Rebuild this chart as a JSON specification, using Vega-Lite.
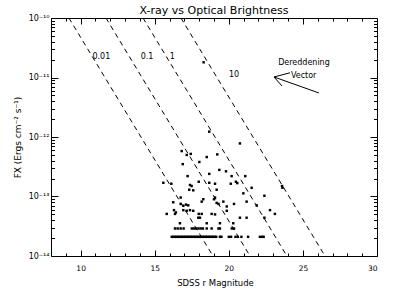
{
  "$schema": "https://vega.github.io/schema/vega-lite/v6.json",
  "width": 326,
  "height": 238,
  "autosize": {"type": "none"},
  "padding": {"left": 51, "top": 18, "right": 17, "bottom": 35},
  "background": "white",
  "title": {"text": "X-ray vs Optical Brightness", "anchor": "middle", "baseline": "alphabetic", "offset": 0, "dy": 11, "fontSize": 11, "font": "DejaVu Sans", "fontWeight": "normal", "color": "black"},
  "config": {
    "view": {"stroke": null},
    "axis": {"labelFont": "DejaVu Sans", "titleFont": "DejaVu Sans", "labelColor": "black", "titleColor": "black", "tickColor": "black", "domainColor": "black", "grid": false, "titleFontWeight": "normal", "domainWidth": 1, "tickWidth": 1},
    "text": {"font": "DejaVu Sans", "color": "black"}
  },
  "datasets": {
    "lines": [
      {"ratio": "0.01", "r": 9.21, "fx": 1e-10}, {"ratio": "0.01", "r": 18.93, "fx": 1e-14},
      {"ratio": "0.1", "r": 11.71, "fx": 1e-10}, {"ratio": "0.1", "r": 21.43, "fx": 1e-14},
      {"ratio": "1", "r": 14.21, "fx": 1e-10}, {"ratio": "1", "r": 23.92, "fx": 1e-14},
      {"ratio": "10", "r": 16.77, "fx": 1e-10}, {"ratio": "10", "r": 26.49, "fx": 1e-14}
    ],
    "labels": [
      {"text": "0.01", "r": 11.4, "fx": 2.21e-11},
      {"text": "0.1", "r": 14.48, "fx": 2.21e-11},
      {"text": "1", "r": 16.18, "fx": 2.21e-11},
      {"text": "10", "r": 20.35, "fx": 1.12e-11},
      {"text": "Dereddening", "r": 25.07, "fx": 1.72e-11},
      {"text": "Vector", "r": 25.05, "fx": 1.08e-11}
    ],
    "arrow": [
      {"r": 26.08, "fx": 5.5e-12, "r2": 23.05, "fx2": 1.02e-11},
      {"r": 23.05, "fx": 1.02e-11, "r2": 24.13, "fx2": 1.2e-11},
      {"r": 23.05, "fx": 1.02e-11, "r2": 23.59, "fx2": 7.2e-12}
    ],
    "pts": [
      {"r": 18.3, "fx": 1.8e-11}, {"r": 18.68, "fx": 1.23e-12}, {"r": 20.75, "fx": 7.8e-13},
      {"r": 16.82, "fx": 5.8e-13}, {"r": 17.16, "fx": 5.0e-13}, {"r": 17.43, "fx": 5.2e-13},
      {"r": 18.51, "fx": 4.6e-13}, {"r": 19.22, "fx": 5.1e-13}, {"r": 16.89, "fx": 3.5e-13},
      {"r": 18.01, "fx": 3.8e-13}, {"r": 19.36, "fx": 2.8e-13}, {"r": 19.81, "fx": 2.65e-13},
      {"r": 18.68, "fx": 2.4e-13}, {"r": 17.22, "fx": 2.2e-13}, {"r": 20.19, "fx": 2.2e-13},
      {"r": 21.11, "fx": 2.2e-13}, {"r": 15.58, "fx": 1.7e-13}, {"r": 16.12, "fx": 1.64e-13},
      {"r": 17.97, "fx": 1.77e-13}, {"r": 18.68, "fx": 1.7e-13}, {"r": 19.07, "fx": 1.64e-13},
      {"r": 20.13, "fx": 1.64e-13}, {"r": 20.48, "fx": 1.77e-13}, {"r": 20.57, "fx": 1.68e-13},
      {"r": 17.38, "fx": 1.56e-13}, {"r": 17.49, "fx": 1.5e-13}, {"r": 21.54, "fx": 1.4e-13},
      {"r": 17.33, "fx": 1.3e-13}, {"r": 17.6, "fx": 1.27e-13}, {"r": 19.18, "fx": 1.3e-13},
      {"r": 23.59, "fx": 1.5e-13}, {"r": 23.62, "fx": 1.4e-13}, {"r": 20.98, "fx": 1.13e-13},
      {"r": 22.4, "fx": 1.03e-13}, {"r": 16.75, "fx": 9.6e-14}, {"r": 18.28, "fx": 9.0e-14},
      {"r": 18.17, "fx": 8.2e-14}, {"r": 19.07, "fx": 9.6e-14}, {"r": 19.0, "fx": 9.0e-14},
      {"r": 19.18, "fx": 7.8e-14}, {"r": 19.3, "fx": 7.5e-14}, {"r": 19.63, "fx": 8.2e-14},
      {"r": 21.2, "fx": 8.2e-14}, {"r": 16.25, "fx": 8.0e-14}, {"r": 16.75, "fx": 7.5e-14},
      {"r": 16.93, "fx": 7.0e-14}, {"r": 17.11, "fx": 7.3e-14}, {"r": 17.26, "fx": 7.1e-14},
      {"r": 19.86, "fx": 6.8e-14}, {"r": 20.35, "fx": 7.5e-14}, {"r": 21.88, "fx": 7.1e-14},
      {"r": 16.3, "fx": 5.9e-14}, {"r": 16.43, "fx": 5.4e-14}, {"r": 16.93, "fx": 5.9e-14},
      {"r": 17.16, "fx": 5.75e-14}, {"r": 17.38, "fx": 5.9e-14}, {"r": 17.6, "fx": 5.75e-14},
      {"r": 15.81, "fx": 5.1e-14}, {"r": 16.37, "fx": 5.1e-14}, {"r": 17.97, "fx": 5.1e-14},
      {"r": 18.17, "fx": 5.1e-14}, {"r": 18.84, "fx": 5.1e-14}, {"r": 19.07, "fx": 5.0e-14},
      {"r": 22.78, "fx": 5.9e-14}, {"r": 23.11, "fx": 5.1e-14}, {"r": 19.86, "fx": 5.75e-14},
      {"r": 17.94, "fx": 4.4e-14}, {"r": 18.05, "fx": 4.4e-14}, {"r": 20.75, "fx": 4.4e-14},
      {"r": 21.2, "fx": 4.4e-14}, {"r": 22.4, "fx": 4.4e-14},
      {"r": 16.7, "fx": 3.55e-14}, {"r": 18.51, "fx": 3.55e-14}, {"r": 19.4, "fx": 3.55e-14}, {"r": 20.3, "fx": 3.55e-14},
      {"r": 16.37, "fx": 2.9e-14}, {"r": 16.55, "fx": 2.9e-14}, {"r": 16.75, "fx": 2.9e-14}, {"r": 16.95, "fx": 2.9e-14},
      {"r": 17.5, "fx": 2.9e-14}, {"r": 17.65, "fx": 2.9e-14}, {"r": 17.8, "fx": 2.9e-14}, {"r": 17.95, "fx": 2.9e-14},
      {"r": 18.1, "fx": 2.9e-14}, {"r": 18.25, "fx": 2.9e-14}, {"r": 18.51, "fx": 2.9e-14}, {"r": 18.84, "fx": 2.9e-14},
      {"r": 19.3, "fx": 2.9e-14}, {"r": 19.4, "fx": 2.9e-14}, {"r": 20.2, "fx": 2.9e-14}, {"r": 20.35, "fx": 2.9e-14},
      {"r": 16.15, "fx": 2.1e-14}, {"r": 16.25, "fx": 2.1e-14}, {"r": 16.35, "fx": 2.1e-14}, {"r": 16.45, "fx": 2.1e-14},
      {"r": 16.55, "fx": 2.1e-14}, {"r": 16.65, "fx": 2.1e-14}, {"r": 16.75, "fx": 2.1e-14}, {"r": 16.85, "fx": 2.1e-14},
      {"r": 16.95, "fx": 2.1e-14}, {"r": 17.05, "fx": 2.1e-14}, {"r": 17.15, "fx": 2.1e-14}, {"r": 17.25, "fx": 2.1e-14},
      {"r": 17.35, "fx": 2.1e-14}, {"r": 17.45, "fx": 2.1e-14}, {"r": 17.55, "fx": 2.1e-14}, {"r": 17.65, "fx": 2.1e-14},
      {"r": 17.75, "fx": 2.1e-14}, {"r": 17.85, "fx": 2.1e-14}, {"r": 17.95, "fx": 2.1e-14}, {"r": 18.05, "fx": 2.1e-14},
      {"r": 18.15, "fx": 2.1e-14}, {"r": 18.25, "fx": 2.1e-14}, {"r": 18.35, "fx": 2.1e-14}, {"r": 18.45, "fx": 2.1e-14},
      {"r": 18.55, "fx": 2.1e-14}, {"r": 18.65, "fx": 2.1e-14}, {"r": 18.75, "fx": 2.1e-14}, {"r": 18.85, "fx": 2.1e-14},
      {"r": 18.95, "fx": 2.1e-14}, {"r": 19.05, "fx": 2.1e-14}, {"r": 19.15, "fx": 2.1e-14},
      {"r": 19.4, "fx": 2.1e-14}, {"r": 19.5, "fx": 2.1e-14}, {"r": 20.0, "fx": 2.1e-14}, {"r": 20.15, "fx": 2.1e-14},
      {"r": 20.45, "fx": 2.1e-14}, {"r": 20.6, "fx": 2.1e-14}, {"r": 20.85, "fx": 2.1e-14}, {"r": 21.3, "fx": 2.1e-14},
      {"r": 22.1, "fx": 2.1e-14}, {"r": 22.25, "fx": 2.1e-14}, {"r": 22.35, "fx": 2.1e-14}
    ]
  },
  "resolve": {"axis": {"x": "independent", "y": "independent"}},
  "layer": [
    {
      "data": {"name": "lines"},
      "mark": {"type": "line", "color": "black", "strokeWidth": 1, "strokeDash": [5, 4], "clip": true},
      "encoding": {
        "x": {"field": "r", "type": "quantitative", "scale": {"domain": [8, 30], "nice": false, "zero": false},
          "axis": {"orient": "bottom", "values": [10, 15, 20, 25, 30], "tickSize": -6, "labelPadding": 14, "labelFontSize": 7.5, "domain": true,
            "title": "SDSS r Magnitude", "titleFontSize": 8.5, "titleX": 164, "titleY": 26, "titleBaseline": "middle", "titleAlign": "center"}},
        "y": {"field": "fx", "type": "quantitative", "scale": {"type": "log", "domain": [1e-14, 1e-10], "nice": false},
          "axis": {"orient": "left", "values": [1e-14, 1e-13, 1e-12, 1e-11, 1e-10], "tickSize": -7, "labelPadding": 9, "labelFontSize": 8, "domain": true,
            "labelExpr": "'10' + (datum.value < 5e-14 ? '⁻¹⁴' : datum.value < 5e-13 ? '⁻¹³' : datum.value < 5e-12 ? '⁻¹²' : datum.value < 5e-11 ? '⁻¹¹' : '⁻¹⁰')",
            "title": "FX (Ergs cm⁻² s⁻¹)", "titleFontSize": 9, "titleX": -34, "titleY": 119, "titleAngle": -90, "titleBaseline": "middle", "titleAlign": "center"}},
        "detail": {"field": "ratio"}
      }
    },
    {
      "data": {"name": "pts"},
      "mark": {"type": "point", "shape": "square", "filled": true, "color": "black", "size": 6, "opacity": 1},
      "encoding": {
        "x": {"field": "r", "type": "quantitative", "scale": {"domain": [8, 30], "nice": false, "zero": false},
          "axis": {"orient": "bottom", "values": [9, 11, 12, 13, 14, 16, 17, 18, 19, 21, 22, 23, 24, 26, 27, 28, 29], "tickSize": -3, "labels": false, "domain": false, "title": null}},
        "y": {"field": "fx", "type": "quantitative", "scale": {"type": "log", "domain": [1e-14, 1e-10], "nice": false},
          "axis": {"orient": "left", "values": [2e-14, 3e-14, 4e-14, 5e-14, 6e-14, 7e-14, 8e-14, 9e-14, 2e-13, 3e-13, 4e-13, 5e-13, 6e-13, 7e-13, 8e-13, 9e-13, 2e-12, 3e-12, 4e-12, 5e-12, 6e-12, 7e-12, 8e-12, 9e-12, 2e-11, 3e-11, 4e-11, 5e-11, 6e-11, 7e-11, 8e-11, 9e-11], "tickSize": -3.5, "labels": false, "domain": false, "title": null}}
      }
    },
    {
      "data": {"name": "labels"},
      "mark": {"type": "text", "fontSize": 8, "align": "center", "baseline": "middle", "color": "black"},
      "encoding": {
        "x": {"field": "r", "type": "quantitative", "scale": {"domain": [8, 30], "nice": false, "zero": false},
          "axis": {"orient": "top", "values": [10, 15, 20, 25], "tickSize": -6, "labels": false, "domain": true, "title": null}},
        "y": {"field": "fx", "type": "quantitative", "scale": {"type": "log", "domain": [1e-14, 1e-10], "nice": false},
          "axis": {"orient": "right", "values": [1e-13, 1e-12, 1e-11], "tickSize": -7, "labels": false, "domain": true, "title": null}},
        "text": {"field": "text"}
      }
    },
    {
      "data": {"name": "arrow"},
      "mark": {"type": "rule", "color": "black", "strokeWidth": 1},
      "encoding": {
        "x": {"field": "r", "type": "quantitative", "scale": {"domain": [8, 30], "nice": false, "zero": false},
          "axis": {"orient": "top", "values": [9, 11, 12, 13, 14, 16, 17, 18, 19, 21, 22, 23, 24, 26, 27, 28, 29], "tickSize": -3, "labels": false, "domain": false, "title": null}},
        "x2": {"field": "r2"},
        "y": {"field": "fx", "type": "quantitative", "scale": {"type": "log", "domain": [1e-14, 1e-10], "nice": false},
          "axis": {"orient": "right", "values": [2e-14, 3e-14, 4e-14, 5e-14, 6e-14, 7e-14, 8e-14, 9e-14, 2e-13, 3e-13, 4e-13, 5e-13, 6e-13, 7e-13, 8e-13, 9e-13, 2e-12, 3e-12, 4e-12, 5e-12, 6e-12, 7e-12, 8e-12, 9e-12, 2e-11, 3e-11, 4e-11, 5e-11, 6e-11, 7e-11, 8e-11, 9e-11], "tickSize": -3.5, "labels": false, "domain": false, "title": null}},
        "y2": {"field": "fx2"}
      }
    }
  ]
}
